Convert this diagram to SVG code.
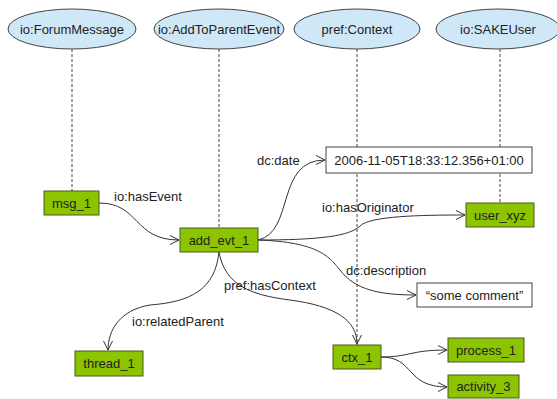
<svg xmlns="http://www.w3.org/2000/svg" width="557" height="399" viewBox="0 0 557 399">
<style>
text{font-family:"Liberation Sans",Arial,sans-serif;font-size:13px;fill:#222}
.cls ellipse{fill:#cfe8f8;stroke:#444;stroke-width:1}
.inst rect{fill:#8cc400;stroke:#4a5a20;stroke-width:1}
.lit rect{fill:#fff;stroke:#444;stroke-width:1}
.mid{text-anchor:middle}
.dash{stroke:#444;stroke-width:1;stroke-dasharray:3,2;fill:none}
.edge{stroke:#333;stroke-width:1;fill:none;marker-end:url(#arr)}
</style>
<defs>
<marker id="arr" viewBox="0 0 10 10" refX="9" refY="5" markerWidth="10" markerHeight="10" markerUnits="userSpaceOnUse" orient="auto">
<path d="M0,0.5 L9,5 L0,9.5" fill="none" stroke="#333" stroke-width="1"/>
</marker>
</defs>
<rect width="557" height="399" fill="#fff"/>
<g id="typelinks">
<line class="dash" x1="72" y1="49" x2="72" y2="191"/>
<line class="dash" x1="219" y1="49" x2="219" y2="228"/>
<line class="dash" x1="357" y1="49" x2="357" y2="345"/>
<line class="dash" x1="500" y1="49" x2="500" y2="203"/>
</g>
<g id="cls-forum" class="cls"><ellipse cx="72" cy="29" rx="64" ry="20"/><text class="mid" x="72" y="34">io:ForumMessage</text></g>
<g id="cls-add" class="cls"><ellipse cx="219" cy="29" rx="65" ry="20"/><text class="mid" x="219" y="34">io:AddToParentEvent</text></g>
<g id="cls-context" class="cls"><ellipse cx="357" cy="29" rx="63" ry="20"/><text class="mid" x="357" y="34">pref:Context</text></g>
<g id="cls-user" class="cls"><ellipse cx="498" cy="29" rx="62" ry="20"/><text class="mid" x="498" y="34">io:SAKEUser</text></g>
<g id="connectors">
<path class="edge" d="M99,203 C140,203 133,240 179,240"/>
<path class="edge" d="M258,240 C295,232 275,160 325,160"/>
<path class="edge" d="M258,240 C320,240 350,236 360,226 C370,216 420,215 465,215"/>
<path class="edge" d="M258,240 C320,242 330,258 340,270 C355,290 380,295 416,295"/>
<path class="edge" d="M219,252 C215,290 190,302 150,305 C120,310 108,330 108,350"/>
<path class="edge" d="M219,252 C225,285 250,295 290,300 C335,306 357,320 357,344"/>
<path class="edge" d="M381,357 C410,357 410,350 447,350"/>
<path class="edge" d="M381,357 C415,357 405,387 447,387"/>
<text x="114" y="201">io:hasEvent</text>
<text x="257" y="165">dc:date</text>
<text x="322" y="212">io:hasOriginator</text>
<text x="346" y="275">dc:description</text>
<text x="224" y="290">pref:hasContext</text>
<text x="132" y="326">io:relatedParent</text>
</g>
<g id="msg_1" class="inst"><rect x="44" y="191" width="55" height="24"/><text class="mid" x="71.5" y="207.5">msg_1</text></g>
<g id="add_evt_1" class="inst"><rect x="180" y="228" width="78" height="24"/><text class="mid" x="219" y="244.5">add_evt_1</text></g>
<g id="date" class="lit"><rect x="326" y="147" width="206" height="26"/><text class="mid" x="429" y="164.5">2006-11-05T18:33:12.356+01:00</text></g>
<g id="user_xyz" class="inst"><rect x="466" y="203" width="68" height="24"/><text class="mid" x="500" y="219.5">user_xyz</text></g>
<g id="comment" class="lit"><rect x="417" y="283" width="115" height="24"/><text class="mid" x="474.5" y="299.5">“some comment”</text></g>
<g id="thread_1" class="inst"><rect x="75" y="351" width="68" height="25"/><text class="mid" x="109" y="368">thread_1</text></g>
<g id="ctx_1" class="inst"><rect x="333" y="345" width="48" height="24"/><text class="mid" x="357" y="361.5">ctx_1</text></g>
<g id="process_1" class="inst"><rect x="448" y="338" width="76" height="24"/><text class="mid" x="486" y="354.5">process_1</text></g>
<g id="activity_3" class="inst"><rect x="448" y="375" width="71" height="23"/><text class="mid" x="483.5" y="391">activity_3</text></g>
</svg>
